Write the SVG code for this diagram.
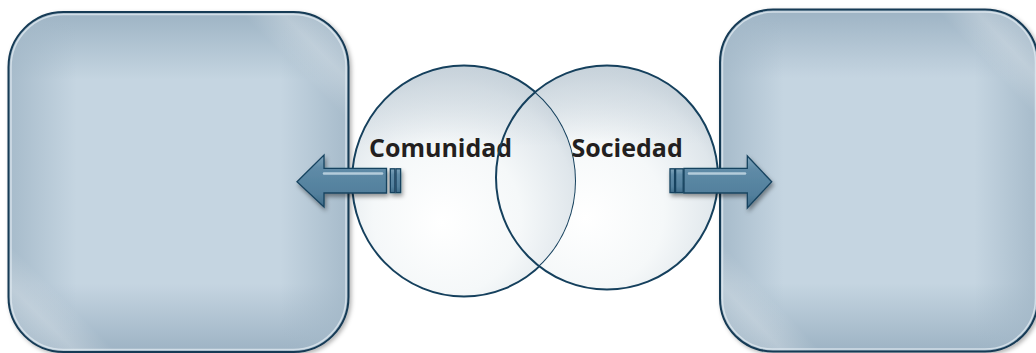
<svg xmlns="http://www.w3.org/2000/svg" width="1036" height="353" viewBox="0 0 1036 353">
  <style>
    .box-base { fill: #c5d5e1; }
    .box-v { fill: url(#boxV); }
    .box-h { fill: url(#boxH); }
    .box-d { fill: url(#boxD); }
    .box-line { fill: none; stroke: #153a55; stroke-width: 2; }
    .box-glow { fill: none; stroke: #e2ebf1; stroke-width: 1.5; stroke-opacity: 0.75; }
    .vfill { fill: url(#circleFill); }
    .vtop { fill: url(#circleTop); }
    .vline { fill: none; stroke: #15405d; stroke-width: 2; }
    .label { font-family: "Open Sans", "Liberation Sans", sans-serif; font-weight: 700; font-size: 25px; fill: #231f20; }
    .arrow { fill: url(#arrowFill); stroke: #17435f; stroke-width: 1.3; stroke-linejoin: miter; }
    .arrow-hl { fill: none; stroke: #c3d8e4; stroke-width: 2.5; stroke-linecap: round; stroke-opacity: 0.85; }
  </style>
  <defs>
    <linearGradient id="boxV" x1="0" y1="0" x2="0" y2="1">
      <stop offset="0" stop-color="#9db3c4" stop-opacity="1"/>
      <stop offset="0.2" stop-color="#9db3c4" stop-opacity="0"/>
      <stop offset="0.8" stop-color="#9db3c4" stop-opacity="0"/>
      <stop offset="1" stop-color="#9db3c4" stop-opacity="1"/>
    </linearGradient>
    <linearGradient id="boxH" x1="0" y1="0" x2="1" y2="0">
      <stop offset="0" stop-color="#a3b8c8" stop-opacity="0.9"/>
      <stop offset="0.2" stop-color="#a3b8c8" stop-opacity="0"/>
      <stop offset="0.8" stop-color="#a3b8c8" stop-opacity="0"/>
      <stop offset="1" stop-color="#a3b8c8" stop-opacity="0.9"/>
    </linearGradient>
    <linearGradient id="boxD" x1="0" y1="1" x2="1" y2="0">
      <stop offset="0" stop-color="#ffffff" stop-opacity="0"/>
      <stop offset="0.1" stop-color="#ffffff" stop-opacity="0.25"/>
      <stop offset="0.16" stop-color="#ffffff" stop-opacity="0"/>
      <stop offset="0.84" stop-color="#ffffff" stop-opacity="0"/>
      <stop offset="0.9" stop-color="#ffffff" stop-opacity="0.25"/>
      <stop offset="1" stop-color="#ffffff" stop-opacity="0"/>
    </linearGradient>
    <radialGradient id="circleFill" cx="0.45" cy="0.64" r="0.66" fx="0.4" fy="0.68">
      <stop offset="0" stop-color="#ffffff"/>
      <stop offset="0.5" stop-color="#f5f8f9"/>
      <stop offset="0.85" stop-color="#dfe6eb"/>
      <stop offset="1" stop-color="#cbd5dd"/>
    </radialGradient>
    <linearGradient id="circleTop" x1="0" y1="0" x2="0" y2="1">
      <stop offset="0" stop-color="#c3cfd8" stop-opacity="0.7"/>
      <stop offset="0.35" stop-color="#c3cfd8" stop-opacity="0"/>
      <stop offset="1" stop-color="#c3cfd8" stop-opacity="0"/>
    </linearGradient>
    <mask id="socMask" maskUnits="userSpaceOnUse" x="0" y="0" width="1036" height="353">
      <rect x="0" y="0" width="1036" height="353" fill="#fff"/>
      <ellipse cx="464" cy="181" rx="112" ry="115.5" fill="#000"/>
    </mask>
    <linearGradient id="arrowFill" x1="0" y1="0" x2="0" y2="1">
      <stop offset="0" stop-color="#80a5bc"/>
      <stop offset="0.25" stop-color="#5f8ba7"/>
      <stop offset="0.75" stop-color="#527f9c"/>
      <stop offset="1" stop-color="#3e6b88"/>
    </linearGradient>
    <filter id="boxShadow" x="-5%" y="-5%" width="112%" height="112%">
      <feDropShadow dx="2" dy="2" stdDeviation="2" flood-color="#000" flood-opacity="0.3"/>
    </filter>
    <filter id="arrowShadow" x="-20%" y="-30%" width="140%" height="170%">
      <feDropShadow dx="1.5" dy="3" stdDeviation="2" flood-color="#000" flood-opacity="0.4"/>
    </filter>
  </defs>

  <rect width="1036" height="353" fill="#ffffff"/>

  <g id="box-left" filter="url(#boxShadow)">
    <rect class="box-base" x="8.5" y="12" width="340" height="340" rx="55"/>
    <rect class="box-v" x="8.5" y="12" width="340" height="340" rx="55"/>
    <rect class="box-h" x="8.5" y="12" width="340" height="340" rx="55"/>
    <rect class="box-d" x="8.5" y="12" width="340" height="340" rx="55"/>
    <rect class="box-glow" x="11" y="14.5" width="335" height="335" rx="52.5"/>
    <rect class="box-line" x="8.5" y="12" width="340" height="340" rx="55"/>
  </g>

  <g id="box-right" filter="url(#boxShadow)">
    <rect class="box-base" x="720" y="9.5" width="318" height="342" rx="53"/>
    <rect class="box-v" x="720" y="9.5" width="318" height="342" rx="53"/>
    <rect class="box-h" x="720" y="9.5" width="318" height="342" rx="53"/>
    <rect class="box-d" x="720" y="9.5" width="318" height="342" rx="53"/>
    <rect class="box-glow" x="722.5" y="12" width="313" height="337" rx="50.5"/>
    <rect class="box-line" x="720" y="9.5" width="318" height="342" rx="53"/>
  </g>

  <g id="node-comunidad">
    <ellipse class="vfill" cx="464" cy="181" rx="112" ry="115.5"/>
    <ellipse class="vtop" cx="464" cy="181" rx="112" ry="115.5"/>
    <ellipse class="vline" cx="464" cy="181" rx="112" ry="115.5"/>
    <text class="label" x="369" y="156.5">Comunidad</text>
  </g>

  <g id="node-sociedad">
    <g mask="url(#socMask)">
      <ellipse class="vfill" cx="607" cy="177.5" rx="111" ry="112"/>
      <ellipse class="vtop" cx="607" cy="177.5" rx="111" ry="112"/>
    </g>
    <ellipse class="vline" cx="607" cy="177.5" rx="111" ry="112"/>
    <text class="label" x="571.5" y="156.5">Sociedad</text>
  </g>

  <g id="connectors">
    <g id="arrow-left" filter="url(#arrowShadow)">
      <path class="arrow" d="M297,181.7 L324,155 L324,168.3 L386.5,168.3 L386.5,193 L324,193 L324,207 Z"/>
      <rect class="arrow" x="390.3" y="168.8" width="4.6" height="23.8"/>
      <rect class="arrow" x="396" y="168.8" width="4.6" height="23.8"/>
      <line class="arrow-hl" x1="324" y1="173.5" x2="382" y2="173.5"/>
    </g>
    <g id="arrow-right" filter="url(#arrowShadow)">
      <path class="arrow" d="M771.7,181.7 L747.3,156 L747.3,168.3 L684,168.3 L684,193 L747.3,193 L747.3,208 Z"/>
      <rect class="arrow" x="670" y="168.8" width="4.6" height="23.8"/>
      <rect class="arrow" x="675.6" y="168.8" width="7.6" height="23.8"/>
      <line class="arrow-hl" x1="689" y1="173.5" x2="745" y2="173.5"/>
    </g>
  </g>
</svg>
